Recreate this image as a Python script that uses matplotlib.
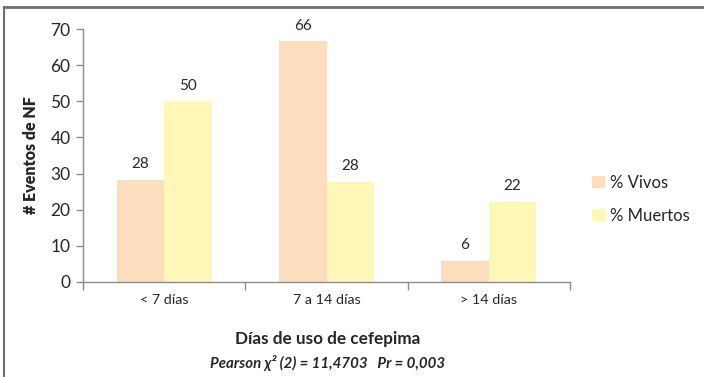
import matplotlib
matplotlib.use("Agg")
import matplotlib.pyplot as plt
import numpy as np
from matplotlib.lines import Line2D

plt.rcParams['font.family'] = ['Lato', 'DejaVu Sans']

categories = ["< 7 días", "7 a 14 días", "> 14 días"]
vivos = [28.3, 66.7, 5.9]
muertos = [50.0, 27.8, 22.2]
vivos_labels = ["28", "66", "6"]
muertos_labels = ["50", "28", "22"]
series_names = ["% Vivos", "% Muertos"]
yticks = [0, 10, 20, 30, 40, 50, 60, 70]

c_vivos = "#FCDDBD"
c_muertos = "#FEF7B8"
axis_col = "#8C8C8C"
text_col = "#262626"

fig = plt.figure(figsize=(7.04, 3.77), dpi=100)
ax = fig.add_axes([83/704, 1-282/377, (570-83)/704, (282-29)/377])

x = np.arange(len(categories))
w = 0.293
b1 = ax.bar(x - w/2, vivos, w, color=c_vivos, label=series_names[0])
b2 = ax.bar(x + w/2, muertos, w, color=c_muertos, label=series_names[1])

for rect, lab in zip(b1, vivos_labels):
    ax.annotate(lab, (rect.get_x() + rect.get_width()/2, rect.get_height()),
                xytext=(0, 6), textcoords="offset points", ha="center", va="bottom",
                fontsize=11, color=text_col)
for rect, lab in zip(b2, muertos_labels):
    ax.annotate(lab, (rect.get_x() + rect.get_width()/2, rect.get_height()),
                xytext=(0, 6), textcoords="offset points", ha="center", va="bottom",
                fontsize=11, color=text_col)

ax.set_xlim(-0.5, len(categories) - 0.5)
ax.set_ylim(0, 70)
ax.set_yticks(yticks)
ax.set_yticklabels([str(t) for t in yticks], fontsize=12.5, color=text_col)
ax.set_xticks(x)
ax.set_xticklabels(categories, fontsize=10.3, color=text_col)
ax.tick_params(axis='x', length=0, pad=9)
ax.set_xticks(np.arange(len(categories) + 1) - 0.5, minor=True)
ax.tick_params(axis='x', which='minor', length=6, color=axis_col, width=1)
ax.tick_params(axis='y', length=5, color=axis_col, width=1, pad=4)

for s in ['top', 'right']:
    ax.spines[s].set_visible(False)
for s in ['left', 'bottom']:
    ax.spines[s].set_color(axis_col)
    ax.spines[s].set_linewidth(1)

ax.set_ylabel("# Eventos de NF", fontsize=11.5, fontweight='heavy', color=text_col, labelpad=8)

fig.text(328/704, 1-339/377, "Días de uso de cefepima", ha='center', va='center',
         fontsize=12.3, fontweight='bold', color=text_col)
fig.text(328/704, 1-363/377, "Pearson χ² (2) = 11,4703   Pr = 0,003", ha='center', va='center',
         fontsize=10.8, fontweight='bold', fontstyle='italic', color=text_col)

leg = ax.legend(loc='upper left', bbox_to_anchor=(592/704, 1-175/377), bbox_transform=fig.transFigure,
                frameon=False, fontsize=12, handlelength=0.75, handleheight=0.75,
                handletextpad=0.35, labelspacing=1.0, borderaxespad=0, borderpad=0)
for t in leg.get_texts():
    t.set_color(text_col)

# outer frame (top and left visible)
fig.add_artist(Line2D([4/704, 1], [1-6.5/377, 1-6.5/377], transform=fig.transFigure,
                      color="#6E6E6E", lw=2))
fig.add_artist(Line2D([4/704, 4/704], [0, 1-6.5/377], transform=fig.transFigure,
                      color="#6E6E6E", lw=1.5))

fig.savefig("out.png", dpi=100)
